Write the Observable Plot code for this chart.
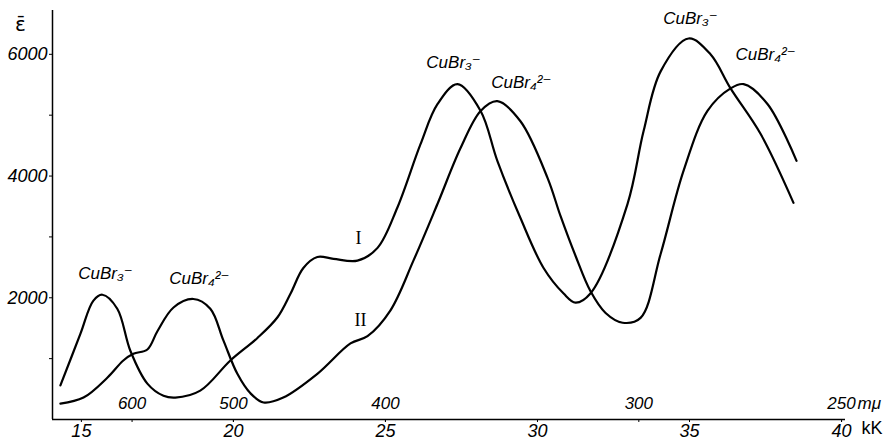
<!DOCTYPE html>
<html>
<head>
<meta charset="utf-8">
<script src="https://cdn.jsdelivr.net/npm/d3@7"></script>
<script src="https://cdn.jsdelivr.net/npm/@observablehq/plot@0.6"></script>
<style>
  html, body { margin: 0; padding: 0; background: #fff; }
  svg { display: block; }
</style>
</head>
<body>
<div id="chart"></div>
<script>
// Curve I (CuBr3^- bands)
const kK_I = [14.31,14.97,15.39,15.69,16.18,16.61,17.17,17.70,18.09,18.91,19.90,20.79,21.45,21.88,22.30,22.76,23.29,24.08,24.74,25.39,26.15,26.71,27.37,28.13,28.68,29.44,30.20,30.86,31.25,31.74,32.96,33.49,34.05,34.97,35.69,36.35,37.34,38.42];
const eps_I = [560,1410,1950,2050,1820,1130,590,390,360,475,970,1340,1680,2070,2490,2670,2640,2610,2820,3480,4520,5180,5510,5070,4250,3310,2490,2070,1920,2070,3540,4740,5720,6260,6000,5440,4690,3560];
// Curve II (CuBr4^2- bands)
const kK_II = [14.31,15.07,15.86,16.38,16.71,17.17,17.50,18.03,18.68,19.24,19.67,20.13,20.56,20.99,21.64,22.76,23.85,24.41,25.16,25.92,26.71,27.47,28.13,28.68,29.44,30.33,30.76,31.25,31.74,32.24,32.80,33.39,34.05,34.80,35.59,36.35,36.78,37.57,38.52];
const eps_II = [260,360,690,970,1080,1150,1450,1840,1980,1820,1300,750,430,280,360,750,1250,1370,1790,2610,3540,4460,5070,5230,4900,3970,3340,2690,2110,1750,1590,1670,2720,4080,5070,5440,5510,5180,4250];

// Axis ticks
const kKTicks = [15, 20, 25, 30, 35, 40];
const epsTicks = [2000, 4000, 6000];
const epsMinor = [1000, 3000, 5000];
const wlLabels = ["600", "500", "400", "300", "250"];   // mμ
const wlPos = [16.667, 20, 25, 33.333, 40];             // same in kK

// Band annotations
const bandText = ["CuBr₃⁻", "CuBr₄²⁻", "CuBr₃⁻", "CuBr₄²⁻", "CuBr₃⁻", "CuBr₄²⁻"];
const bandX = [15.79, 18.88, 27.24, 29.47, 35.03, 37.5];
const bandY = [2400, 2318, 5869, 5540, 6592, 6000];
const curveNames = ["I", "II"];
const curveNameX = [24.11, 24.18];
const curveNameY = [2976, 1628];

const xMin = 14.05, xMax = 40.13;
const lineI = kK_I.map((k, i) => ({k, e: eps_I[i]}));
const lineII = kK_II.map((k, i) => ({k, e: eps_II[i]}));
const bands = bandText.map((t, i) => ({t, x: bandX[i], y: bandY[i]}));
const names = curveNames.map((t, i) => ({t, x: curveNameX[i], y: curveNameY[i]}));
const wls = wlLabels.map((t, i) => ({t, x: wlPos[i]}));

const font = "'Liberation Sans Narrow', 'Liberation Sans', 'DejaVu Sans', sans-serif";

const chart = Plot.plot({
  width: 892,
  height: 440,
  marginLeft: 52,
  marginRight: 47,
  marginTop: 10,
  marginBottom: 21,
  style: {background: "#fff", color: "#000", fontFamily: font, fontSize: "18px", fontStyle: "italic"},
  x: {domain: [xMin, xMax], axis: null},
  y: {domain: [0, 6720], axis: null},
  marks: [
    Plot.ruleY([0], {stroke: "#000", strokeWidth: 1.5}),
    Plot.ruleX([xMin], {stroke: "#000", strokeWidth: 1.5}),
    Plot.axisY(epsTicks, {anchor: "left", tickSize: 3, tickPadding: 2, label: null, fontSize: 18, tickFormat: d => String(d)}),
    Plot.axisY(epsMinor, {anchor: "left", tickSize: 3, label: null, tickFormat: () => ""}),
    Plot.axisX(kKTicks, {anchor: "bottom", tickSize: 3, tickPadding: 2, label: null, fontSize: 18, tickFormat: d => String(d)}),
    Plot.axisX(wlPos, {anchor: "bottom", tickSize: 3, label: null, tickFormat: () => ""}),
    Plot.text(wls, {x: "x", frameAnchor: "bottom", text: "t", dy: -11, fontSize: 17}),
    Plot.text(["mμ"], {x: [40], frameAnchor: "bottom", textAnchor: "start", dx: 16, dy: -11, fontSize: 17}),
    Plot.text(["kK"], {x: [40], frameAnchor: "bottom", textAnchor: "start", dx: 20, dy: 14, fontSize: 18, fontStyle: "normal"}),
    Plot.text(["ε̄"], {frameAnchor: "top-left", textAnchor: "middle", dx: -32, dy: 6, fontSize: 20, fontFamily: "'DejaVu Sans', sans-serif", fontStyle: "normal"}),
    Plot.line(lineI, {x: "k", y: "e", curve: "catmull-rom", stroke: "#000", strokeWidth: 2.2}),
    Plot.line(lineII, {x: "k", y: "e", curve: "catmull-rom", stroke: "#000", strokeWidth: 2.2}),
    Plot.text(bands, {x: "x", y: "y", text: "t", fontSize: 17}),
    Plot.text(names, {x: "x", y: "y", text: "t", fontSize: 18, fontFamily: "'Liberation Serif', 'DejaVu Serif', serif", fontStyle: "normal"})
  ]
});
document.getElementById("chart").appendChild(chart);
</script>
</body>
</html>
